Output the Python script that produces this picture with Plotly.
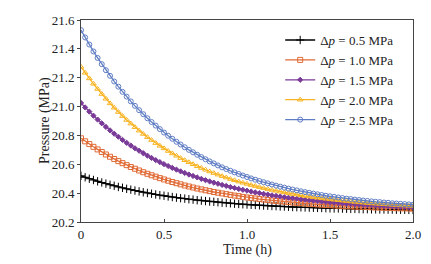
import plotly.graph_objects as go

time_h = [0.000, 0.025, 0.050, 0.075, 0.100, 0.125, 0.150, 0.175, 0.200, 0.225,
          0.250, 0.275, 0.300, 0.325, 0.350, 0.375, 0.400, 0.425, 0.450, 0.475,
          0.500, 0.525, 0.550, 0.575, 0.600, 0.625, 0.650, 0.675, 0.700, 0.725,
          0.750, 0.775, 0.800, 0.825, 0.850, 0.875, 0.900, 0.925, 0.950, 0.975,
          1.000, 1.025, 1.050, 1.075, 1.100, 1.125, 1.150, 1.175, 1.200, 1.225,
          1.250, 1.275, 1.300, 1.325, 1.350, 1.375, 1.400, 1.425, 1.450, 1.475,
          1.500, 1.525, 1.550, 1.575, 1.600, 1.625, 1.650, 1.675, 1.700, 1.725,
          1.750, 1.775, 1.800, 1.825, 1.850, 1.875, 1.900, 1.925, 1.950, 1.975,
          2.000]

p_05 = [20.520, 20.510, 20.500, 20.491, 20.482, 20.474, 20.466, 20.458, 20.451, 20.443,
        20.437, 20.430, 20.424, 20.418, 20.412, 20.406, 20.401, 20.396, 20.391, 20.386,
        20.382, 20.377, 20.373, 20.369, 20.365, 20.362, 20.358, 20.355, 20.351, 20.348,
        20.345, 20.342, 20.340, 20.337, 20.334, 20.332, 20.330, 20.327, 20.325, 20.323,
        20.321, 20.319, 20.318, 20.316, 20.314, 20.313, 20.311, 20.310, 20.308, 20.307,
        20.306, 20.304, 20.303, 20.302, 20.301, 20.300, 20.299, 20.298, 20.297, 20.296,
        20.295, 20.294, 20.294, 20.293, 20.292, 20.291, 20.291, 20.290, 20.289, 20.289,
        20.288, 20.288, 20.287, 20.287, 20.286, 20.286, 20.285, 20.285, 20.285, 20.284,
        20.284]

p_10 = [20.780, 20.759, 20.740, 20.721, 20.703, 20.685, 20.668, 20.652, 20.637, 20.622,
        20.608, 20.594, 20.581, 20.569, 20.557, 20.545, 20.534, 20.524, 20.514, 20.504,
        20.495, 20.486, 20.477, 20.469, 20.461, 20.453, 20.446, 20.439, 20.432, 20.426,
        20.420, 20.414, 20.408, 20.403, 20.398, 20.393, 20.388, 20.383, 20.379, 20.374,
        20.370, 20.367, 20.363, 20.359, 20.356, 20.353, 20.349, 20.346, 20.343, 20.341,
        20.338, 20.335, 20.333, 20.331, 20.328, 20.326, 20.324, 20.322, 20.320, 20.318,
        20.317, 20.315, 20.313, 20.312, 20.310, 20.309, 20.307, 20.306, 20.305, 20.304,
        20.302, 20.301, 20.300, 20.299, 20.298, 20.297, 20.296, 20.295, 20.295, 20.294,
        20.293]

p_15 = [21.025, 20.994, 20.965, 20.937, 20.910, 20.884, 20.859, 20.835, 20.812, 20.791,
        20.769, 20.749, 20.730, 20.711, 20.694, 20.677, 20.660, 20.644, 20.629, 20.615,
        20.601, 20.588, 20.575, 20.563, 20.551, 20.540, 20.529, 20.519, 20.509, 20.499,
        20.490, 20.481, 20.473, 20.465, 20.457, 20.450, 20.442, 20.436, 20.429, 20.423,
        20.417, 20.411, 20.405, 20.400, 20.395, 20.390, 20.385, 20.381, 20.377, 20.372,
        20.368, 20.365, 20.361, 20.357, 20.354, 20.351, 20.348, 20.345, 20.342, 20.339,
        20.337, 20.334, 20.332, 20.329, 20.327, 20.325, 20.323, 20.321, 20.319, 20.317,
        20.316, 20.314, 20.312, 20.311, 20.309, 20.308, 20.307, 20.305, 20.304, 20.303,
        20.302]

p_20 = [21.275, 21.234, 21.195, 21.158, 21.122, 21.087, 21.054, 21.022, 20.992, 20.962,
        20.934, 20.907, 20.882, 20.857, 20.833, 20.810, 20.788, 20.768, 20.747, 20.728,
        20.710, 20.692, 20.675, 20.659, 20.643, 20.628, 20.614, 20.600, 20.586, 20.574,
        20.562, 20.550, 20.539, 20.528, 20.518, 20.508, 20.498, 20.489, 20.480, 20.472,
        20.464, 20.456, 20.449, 20.442, 20.435, 20.428, 20.422, 20.416, 20.410, 20.405,
        20.400, 20.394, 20.390, 20.385, 20.380, 20.376, 20.372, 20.368, 20.364, 20.361,
        20.357, 20.354, 20.351, 20.348, 20.345, 20.342, 20.339, 20.336, 20.334, 20.331,
        20.329, 20.327, 20.325, 20.323, 20.321, 20.319, 20.317, 20.315, 20.314, 20.312,
        20.311]

p_25 = [21.530, 21.479, 21.430, 21.382, 21.337, 21.294, 21.252, 21.213, 21.174, 21.138,
        21.102, 21.069, 21.036, 21.005, 20.975, 20.947, 20.919, 20.893, 20.868, 20.844,
        20.820, 20.798, 20.777, 20.756, 20.737, 20.718, 20.700, 20.683, 20.666, 20.650,
        20.635, 20.620, 20.606, 20.592, 20.579, 20.567, 20.555, 20.544, 20.533, 20.522,
        20.512, 20.502, 20.493, 20.484, 20.476, 20.468, 20.460, 20.452, 20.445, 20.438,
        20.431, 20.425, 20.419, 20.413, 20.407, 20.402, 20.397, 20.392, 20.387, 20.382,
        20.378, 20.374, 20.370, 20.366, 20.362, 20.359, 20.355, 20.352, 20.349, 20.346,
        20.343, 20.340, 20.338, 20.335, 20.333, 20.330, 20.328, 20.326, 20.324, 20.322,
        20.320]

series_names = ["Δ<i>p</i> = 0.5 MPa", "Δ<i>p</i> = 1.0 MPa", "Δ<i>p</i> = 1.5 MPa",
                "Δ<i>p</i> = 2.0 MPa", "Δ<i>p</i> = 2.5 MPa"]
series_vals = [p_05, p_10, p_15, p_20, p_25]
colors = ["#000000", "#E06A34", "#7A3A98", "#F8B320", "#5F7DC4"]
symbols = ["cross-thin", "square-open", "diamond", "triangle-up-open", "circle-open"]
sizes = [6, 5, 4, 5, 5]

x_ticks = [0, 0.5, 1.0, 1.5, 2.0]
x_ticktext = ["0", "0.5", "1.0", "1.5", "2.0"]
y_ticks = [20.2, 20.4, 20.6, 20.8, 21.0, 21.2, 21.4, 21.6]
y_ticktext = ["20.2", "20.4", "20.6", "20.8", "21.0", "21.2", "21.4", "21.6"]

fig = go.Figure()
for name, vals, c, s, sz in zip(series_names, series_vals, colors, symbols, sizes):
    fig.add_trace(go.Scatter(
        x=time_h, y=vals, name=name, mode="lines+markers",
        line=dict(color=c, width=1.3),
        marker=dict(symbol=s, size=sz, color=c, line=dict(color=c, width=1)),
    ))

font_family = "Liberation Serif"
# page body has an 8px default margin, so the figure is sized/offset to compensate
fig.update_layout(
    width=423, height=256,
    margin=dict(l=73, r=18, t=12, b=42, autoexpand=False),
    paper_bgcolor="white", plot_bgcolor="white",
    font=dict(family=font_family, size=13, color="#222222"),
    showlegend=True,
    legend=dict(x=0.60, y=0.975, xanchor="left", yanchor="top",
                bgcolor="rgba(0,0,0,0)", font=dict(size=13, family=font_family),
                itemwidth=30, tracegroupgap=0),
    annotations=[
        dict(text="Time (h)", xref="paper", yref="paper", x=0.5, y=0, yshift=-28,
             showarrow=False, xanchor="center", yanchor="middle",
             font=dict(size=14, family=font_family, color="#222222")),
        dict(text="Pressure (MPa)", xref="paper", yref="paper", x=0, y=0.5, xshift=-36,
             showarrow=False, xanchor="center", yanchor="middle", textangle=-90,
             font=dict(size=14, family=font_family, color="#222222")),
    ],
)
fig.update_xaxes(
    range=[0, 2.0], tickvals=x_ticks, ticktext=x_ticktext, automargin=False,
    showline=True, linecolor="#444444", linewidth=1, mirror=True,
    ticks="inside", ticklen=3, tickcolor="#444444",
    showgrid=False, zeroline=False, tickfont=dict(size=13),
)
fig.update_yaxes(
    range=[20.2, 21.6], tickvals=y_ticks, ticktext=y_ticktext, automargin=False,
    showline=True, linecolor="#444444", linewidth=1, mirror=True,
    ticks="outside", ticklen=3, tickcolor="#444444",
    showgrid=False, zeroline=False, tickfont=dict(size=13),
)

fig.write_html("out.html")
